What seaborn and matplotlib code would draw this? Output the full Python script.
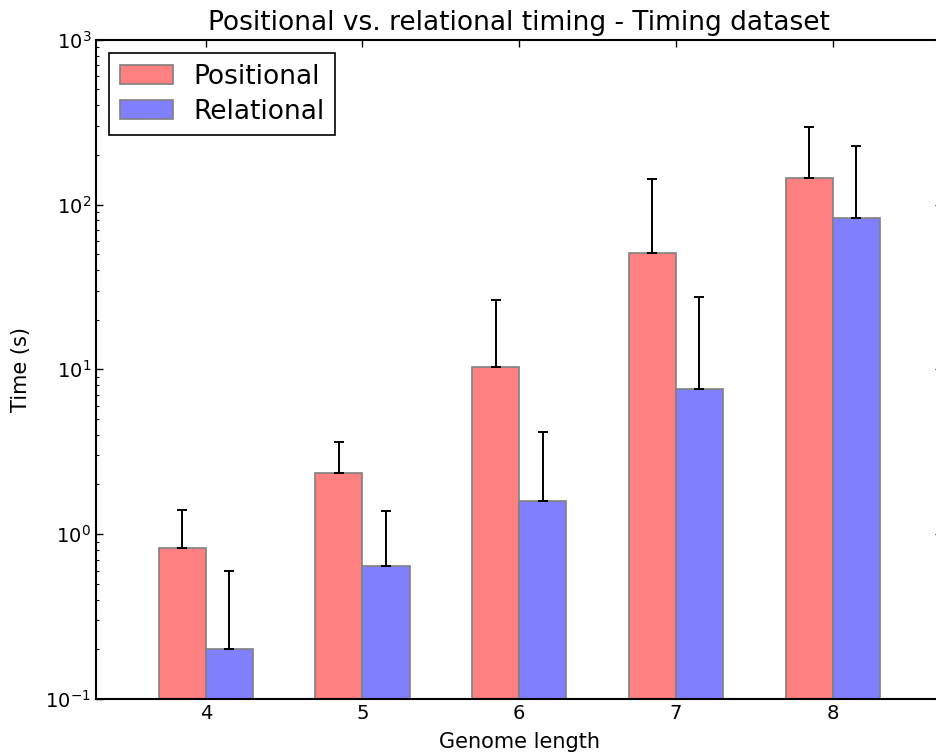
import numpy as np
import pandas as pd
import matplotlib
matplotlib.use("Agg")
import matplotlib.pyplot as plt
import seaborn as sns
from matplotlib.patches import Patch

# values (seconds)
genome_length = ["4", "5", "6", "7", "8"]
positional = [0.818, 2.34, 10.37, 50.6, 145.5]
relational = [0.20, 0.637, 1.59, 7.56, 82.8]
positional_err = [0.59, 1.26, 15.8, 92.2, 151.2]   # upper error only
relational_err = [0.40, 0.75, 2.57, 20.0, 144.7]

sns.set_style("ticks")
plt.rcParams['font.family'] = ['DejaVu Sans']
plt.rcParams['mathtext.fontset'] = 'dejavusans'
plt.rcParams['text.color'] = 'black'
plt.rcParams['axes.labelcolor'] = 'black'

df = pd.DataFrame({
    "length": genome_length * 2,
    "time": positional + relational,
    "method": ["Positional"] * 5 + ["Relational"] * 5,
})

red = (1.0, 0.5, 0.5)
blue = (0.5, 0.5, 1.0)

fig = plt.figure(figsize=(9.37, 7.56), dpi=100)
ax = fig.add_axes([0.1025, 0.0757, 0.9033, 0.8717])

sns.barplot(data=df, x="length", y="time", hue="method",
            palette=[red, blue], width=0.6, errorbar=None,
            edgecolor="#808080", linewidth=1.2, saturation=1, ax=ax)
ax.set_yscale("log")

# error bars (upper only), centred on each dodged bar
xs = np.arange(len(genome_length))
for vals, errs, off in [(positional, positional_err, -0.15),
                        (relational, relational_err, 0.15)]:
    ax.errorbar(xs + off, vals, yerr=[np.zeros(len(vals)), errs],
                fmt="none", ecolor="black", elinewidth=1.4,
                capsize=3.8, capthick=1.4, zorder=3)

ax.set_ylim(0.1, 1000)
ax.set_xlim(-0.7, 4.7)

for s in ax.spines.values():
    s.set_color("black")
    s.set_linewidth(1.5)
ax.tick_params(which="both", direction="in", top=True, right=True,
               colors="black", labelcolor="black", labelsize=14)
ax.tick_params(which="major", length=5, width=1)
ax.tick_params(which="minor", length=2.5, width=0.8)
ax.tick_params(axis="x", which="minor", top=False, bottom=False)

ax.set_title("Positional vs. relational timing - Timing dataset",
             fontsize=19, pad=7, color="black")
ax.set_xlabel("Genome length", fontsize=15, labelpad=7, color="black")
ax.set_ylabel("Time (s)", fontsize=15, labelpad=10, color="black")

ax.get_legend().remove()
handles = [Patch(facecolor=red, edgecolor="#808080", linewidth=1.2, label="Positional"),
           Patch(facecolor=blue, edgecolor="#808080", linewidth=1.2, label="Relational")]
leg = ax.legend(handles=handles, loc="upper left", fontsize=19, fancybox=False,
                framealpha=1, edgecolor="black", borderaxespad=0.5,
                handlelength=2.0, handleheight=0.7, labelspacing=0.35,
                borderpad=0.4, labelcolor="black")
leg.get_frame().set_linewidth(1.2)

fig.savefig("out.png", dpi=100)
